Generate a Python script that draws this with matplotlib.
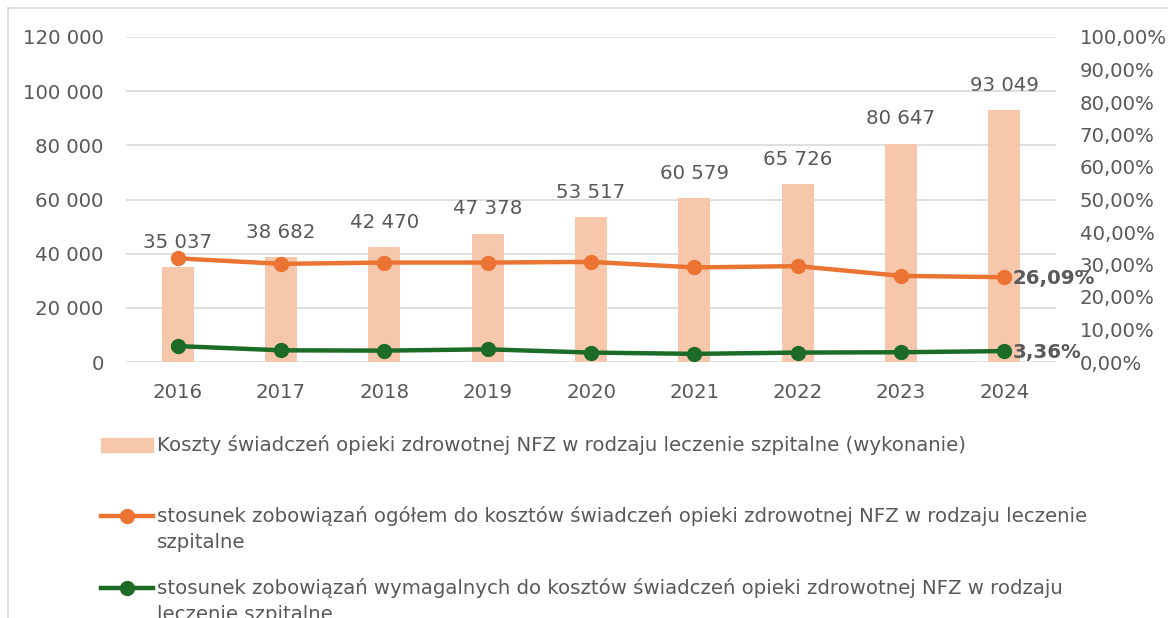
import matplotlib.pyplot as plt
from matplotlib.lines import Line2D
from matplotlib.patches import Rectangle
from matplotlib.ticker import FuncFormatter

years = ['2016', '2017', '2018', '2019', '2020', '2021', '2022', '2023', '2024']
koszty = [35037, 38682, 42470, 47378, 53517, 60579, 65726, 80647, 93049]
zob_ogolem = [31.9, 30.2, 30.6, 30.6, 30.8, 29.1, 29.5, 26.5, 26.09]
zob_wymagalne = [4.9, 3.6, 3.5, 3.9, 2.9, 2.5, 2.9, 3.0, 3.36]

labels = [
    'Koszty świadczeń opieki zdrowotnej NFZ w rodzaju leczenie szpitalne (wykonanie)',
    'stosunek zobowiązań ogółem do kosztów świadczeń opieki zdrowotnej NFZ w rodzaju leczenie\nszpitalne',
    'stosunek zobowiązań wymagalnych do kosztów świadczeń opieki zdrowotnej NFZ w rodzaju\nleczenie szpitalne',
]

bar_color = '#F7C7AC'
orange = '#EC7433'
green = '#1C6B26'
gray = '#595959'
fs = 14.2

plt.rcParams['font.family'] = ['DejaVu Sans']

W, H = 1168, 618
fig = plt.figure(figsize=(W / 100, H / 100), dpi=100)
ax = fig.add_axes([126 / W, 1 - 362 / H, 930 / W, 325 / H])

x = list(range(len(years)))
ax.bar(x, koszty, width=0.31, color=bar_color, zorder=2)
for xi, v in zip(x, koszty):
    ax.annotate(f'{v:,}'.replace(',', ' '), (xi, v), xytext=(0, 11),
                textcoords='offset points', ha='center', va='bottom',
                fontsize=fs, color=gray)

ax.set_xlim(-0.5, len(years) - 0.5)
ax.set_ylim(0, 120000)
ax.set_yticks(range(0, 120001, 20000))
ax.yaxis.set_major_formatter(FuncFormatter(lambda v, p: f'{int(v):,}'.replace(',', ' ')))
ax.set_xticks(x)
ax.set_xticklabels(years)
ax.grid(axis='y', color='#D9D9D9', linewidth=1.2, zorder=0)
ax.set_axisbelow(True)
for s in ax.spines.values():
    s.set_visible(False)
ax.tick_params(axis='both', length=0, labelsize=fs, labelcolor=gray)
ax.tick_params(axis='y', pad=16)
ax.tick_params(axis='x', pad=15)

ax2 = ax.twinx()
ax2.set_ylim(0, 100)
ax2.set_yticks(range(0, 101, 10))
ax2.yaxis.set_major_formatter(FuncFormatter(lambda v, p: f'{v:.2f}'.replace('.', ',') + '%'))
for s in ax2.spines.values():
    s.set_visible(False)
ax2.tick_params(axis='y', length=0, labelsize=fs, labelcolor=gray, pad=17)

ax2.plot(x, zob_ogolem, color=orange, lw=3.2, marker='o', ms=10, zorder=3)
ax2.plot(x, zob_wymagalne, color=green, lw=3.2, marker='o', ms=10, zorder=3)
for series in (zob_ogolem, zob_wymagalne):
    ax2.annotate(f'{series[-1]:.2f}'.replace('.', ',') + '%', (x[-1], series[-1]),
                 xytext=(6, -1), textcoords='offset points', ha='left', va='center',
                 fontsize=fs, color=gray, fontweight='bold')

# frame of the chart area (top and left edges visible)
fig.add_artist(Line2D([8 / W, 8 / W], [0, 1 - 8 / H], transform=fig.transFigure,
                      color='#D9D9D9', lw=1.2))
fig.add_artist(Line2D([8 / W, 1], [1 - 8 / H, 1 - 8 / H], transform=fig.transFigure,
                      color='#D9D9D9', lw=1.2))

# legend drawn by hand to match layout
tx = 157 / W
fig.add_artist(Rectangle((101 / W, 1 - 452 / H), 52 / W, 14 / H,
                         transform=fig.transFigure, color=bar_color))
fig.text(tx, 1 - 445 / H, labels[0], fontsize=fs, color=gray, va='center')
for yy, col, lab in ((516, orange, labels[1]), (588, green, labels[2])):
    fig.add_artist(Line2D([101 / W, 153 / W], [1 - yy / H] * 2, transform=fig.transFigure,
                          color=col, lw=3.2))
    fig.add_artist(Line2D([127 / W], [1 - yy / H], transform=fig.transFigure,
                          color=col, marker='o', ms=10))
    fig.text(tx, 1 - (yy - 10) / H, lab, fontsize=fs, color=gray, va='top',
             linespacing=1.5)

fig.savefig('out.png', dpi=100)
